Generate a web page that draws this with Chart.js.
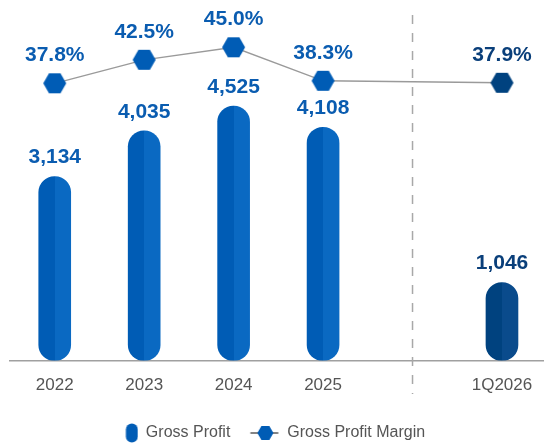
<!DOCTYPE html>
<html>
<head>
<meta charset="utf-8">
<script src="https://cdn.jsdelivr.net/npm/chart.js@4/dist/chart.umd.min.js"></script>
<style>
  html, body { margin: 0; padding: 0; background: #fff; overflow: hidden; width: 544px; height: 445px; }
  #wrap { position: relative; width: 552px; height: 451px; }
</style>
</head>
<body>
<div id="wrap"><canvas id="grafico"></canvas></div>
<script>
// dados do grafico
const categorias = ['2022', '2023', '2024', '2025', '', '1Q2026'];
const lucroBruto = [3134, 4035, 4525, 4108, null, 1046];
const margemBruta = [37.8, 42.5, 45.0, 38.3, null, 37.9];
const rotulosLucro = ['3,134', '4,035', '4,525', '4,108', '', '1,046'];
const rotulosMargem = ['37.8%', '42.5%', '45.0%', '38.3%', '', '37.9%'];

const AZUL = '#005cb5';
const AZUL_CLARO = '#0a69c2';
const MARINHO = '#00427f';
const MARINHO_CLARO = '#0a4b8c';
const FONTE = '"Liberation Sans", Arial, sans-serif';

function desenhaHexagono(ctx, cx, cy, r, cor) {
  ctx.fillStyle = cor;
  ctx.beginPath();
  for (let i = 0; i < 6; i++) {
    const a = (Math.PI / 3) * i;
    const px = cx + r * Math.cos(a);
    const py = cy + r * Math.sin(a);
    i === 0 ? ctx.moveTo(px, py) : ctx.lineTo(px, py);
  }
  ctx.closePath();
  ctx.fill();
}

function hexagono(r, cor) {
  const c = document.createElement('canvas');
  c.width = r * 2 + 2;
  c.height = Math.ceil(Math.sqrt(3) * r) + 2;
  desenhaHexagono(c.getContext('2d'), c.width / 2, c.height / 2, r, cor);
  return c;
}

// icone da legenda: linha com hexagono
function iconeLinhaHex() {
  const c = document.createElement('canvas');
  c.width = 36;
  c.height = 18;
  const ctx = c.getContext('2d');
  ctx.strokeStyle = '#333';
  ctx.lineWidth = 1.2;
  ctx.beginPath();
  ctx.moveTo(6.5, 9);
  ctx.lineTo(34.5, 9);
  ctx.stroke();
  desenhaHexagono(ctx, 21.5, 9, 8, AZUL);
  return c;
}

// icone da legenda: pilula vertical
function iconePilula() {
  const c = document.createElement('canvas');
  c.width = 36;
  c.height = 20;
  const ctx = c.getContext('2d');
  ctx.fillStyle = AZUL;
  ctx.beginPath();
  ctx.roundRect(23.5, 0.5, 12, 19, 6);
  ctx.fill();
  return c;
}

const hexAzul = hexagono(11.5, AZUL);
const hexMarinho = hexagono(11.5, MARINHO);
const iconeBarra = iconePilula();
const iconeLinha = iconeLinhaHex();

function corBarra(context) {
  const chart = context.chart;
  if (!chart.chartArea || !chart.scales.x) return AZUL;
  const i = context.dataIndex;
  const x = chart.scales.x.getPixelForValue(i);
  const g = chart.ctx.createLinearGradient(x - 16, 0, x + 16, 0);
  const escuro = i === 5 ? MARINHO : AZUL;
  const claro = i === 5 ? MARINHO_CLARO : AZUL_CLARO;
  g.addColorStop(0, escuro);
  g.addColorStop(0.5, escuro);
  g.addColorStop(0.5, claro);
  g.addColorStop(1, claro);
  return g;
}

const pluginExtras = {
  id: 'extras',
  afterLayout(chart) {
    // legenda um pouco mais a esquerda
    if (chart.legend) {
      chart.legend.left -= 17;
      chart.legend.right -= 17;
    }
  },
  beforeDatasetsDraw(chart) {
    const ctx = chart.ctx;
    const x = chart.scales.x.getPixelForValue(4);
    ctx.save();
    ctx.strokeStyle = '#a8a8a8';
    ctx.lineWidth = 1.5;
    ctx.setLineDash([9, 9]);
    ctx.beginPath();
    ctx.moveTo(x, 15);
    ctx.lineTo(x, 394);
    ctx.stroke();
    ctx.restore();
  },
  afterDatasetsDraw(chart) {
    const ctx = chart.ctx;
    ctx.save();
    ctx.font = 'bold 21px ' + FONTE;
    ctx.textAlign = 'center';
    ctx.textBaseline = 'middle';
    const barras = chart.getDatasetMeta(0).data;
    barras.forEach((el, i) => {
      if (lucroBruto[i] == null) return;
      ctx.fillStyle = i === 5 ? '#0a3f7a' : '#0a5cb0';
      ctx.fillText(rotulosLucro[i], el.x, el.y - 19);
    });
    const pontos = chart.getDatasetMeta(1).data;
    pontos.forEach((el, i) => {
      if (margemBruta[i] == null) return;
      ctx.fillStyle = i === 5 ? '#0a3f7a' : '#0a5cb0';
      ctx.fillText(rotulosMargem[i], el.x, el.y - 28);
    });
    ctx.restore();
  },
};

new Chart(document.getElementById('grafico'), {
  data: {
    labels: categorias,
    datasets: [
      {
        type: 'bar',
        label: 'Gross Profit',
        data: lucroBruto,
        backgroundColor: corBarra,
        borderRadius: 16,
        borderSkipped: false,
        barThickness: 32,
        base: -490,
        yAxisID: 'y',
        order: 2,
      },
      {
        type: 'line',
        label: 'Gross Profit Margin',
        data: margemBruta,
        borderColor: '#9a9a9a',
        borderWidth: 1.3,
        spanGaps: true,
        pointStyle: margemBruta.map((v, i) => (i === 5 ? hexMarinho : hexAzul)),
        yAxisID: 'y2',
        order: 1,
      },
    ],
  },
  options: {
    responsive: true,
    maintainAspectRatio: false,
    animation: false,
    layout: { padding: { left: 10, right: 0, top: 0, bottom: 0 } },
    plugins: {
      tooltip: { enabled: false },
      legend: {
        position: 'bottom',
        labels: {
          usePointStyle: true,
          pointStyleWidth: 35,
          padding: 14,
          color: '#555',
          font: { family: FONTE, size: 16 },
          generateLabels(chart) {
            return [
              { text: 'Gross Profit', pointStyle: iconeBarra, fontColor: '#555', datasetIndex: 0, hidden: false, lineWidth: 0 },
              { text: 'Gross Profit Margin', pointStyle: iconeLinha, fontColor: '#555', datasetIndex: 1, hidden: false, lineWidth: 0 },
            ];
          },
        },
      },
    },
    scales: {
      x: {
        grid: { display: false, drawTicks: false },
        border: { display: true, color: '#a0a0a0', width: 1.5 },
        ticks: {
          color: '#555',
          padding: 15,
          font: { family: FONTE, size: 17 },
        },
      },
      y: {
        display: false,
        min: -490,
        max: 6510,
      },
      y2: {
        display: false,
        min: -17.7,
        max: 53.4,
      },
    },
  },
  plugins: [pluginExtras],
});
</script>
</body>
</html>
